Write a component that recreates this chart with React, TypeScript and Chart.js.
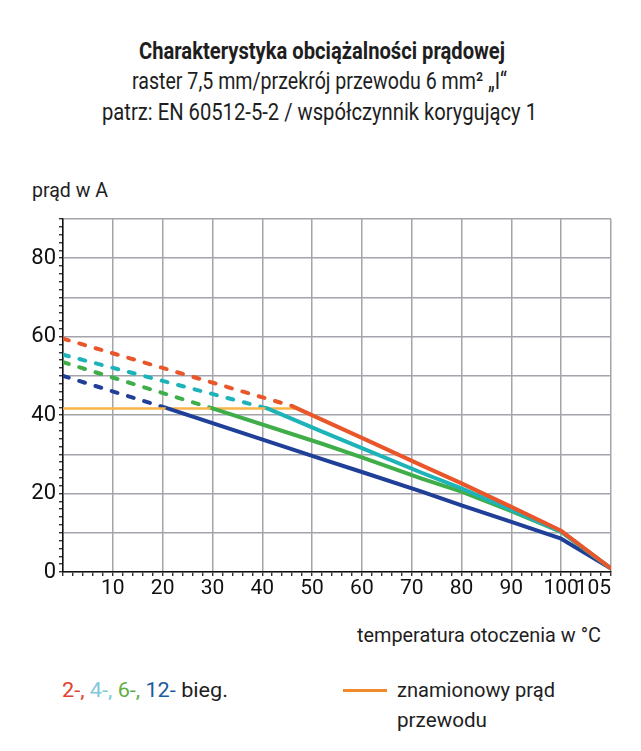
import React, { useEffect, useLayoutEffect, useRef } from "react";
import { Chart, registerables } from "chart.js";

Chart.register(...registerables);

const FONT = "Roboto, 'Noto Sans', sans-serif";

// ---- data (temperature °C -> current A) ----
const orangeX = [0, 47];
const orangeY = [41.7, 41.7];

const red2DashX = [0, 46];
const red2DashY = [59.5, 42.3];
const red2X = [46, 60, 72, 80, 90, 100, 105];
const red2Y = [42.3, 34.2, 27.2, 22.6, 16.6, 10.5, 0.9];

const teal4DashX = [0, 41];
const teal4DashY = [55.4, 41.7];
const teal4X = [41, 52, 60, 72, 80, 90, 100, 105];
const teal4Y = [41.7, 35.8, 31.6, 25.3, 21.3, 15.8, 10.3, 0.9];

const green6DashX = [0, 30];
const green6DashY = [53.5, 41.7];
const green6X = [30, 52, 60, 72, 80, 90, 100, 105];
const green6Y = [41.7, 32.7, 29.2, 23.8, 20.5, 15.5, 10.2, 0.9];

const blue12DashX = [0, 21];
const blue12DashY = [50, 41.7];
const blue12X = [21, 52, 60, 72, 80, 90, 100, 105];
const blue12Y = [41.7, 28.8, 25.5, 20.5, 17.0, 12.8, 8.5, 0.9];

const xTickLabels = ["10", "20", "30", "40", "50", "60", "70", "80", "90", "100", "105"];
const yTickLabels = ["0", "20", "40", "60", "80"];

// the axis from 100 to 105 is drawn with the same width as a 10-degree step
const toAxis = (t: number) => (t <= 100 ? t : 100 + (t - 100) * 2);
const fromAxis = (v: number) => (v <= 100 ? v : 100 + (v - 100) / 2);
const pts = (xs: number[], ys: number[]) => xs.map((x, i) => ({ x: toAxis(x), y: ys[i] }));

const RED = "#e8562a";
const TEAL = "#1db3b9";
const GREEN = "#3fae49";
const BLUE = "#1f3f98";
const ORANGE = "#f8b449";

function Fit(props: {
  left: number;
  right: number;
  top: number;
  size: number;
  weight?: number;
  lh?: number;
  children: any;
}) {
  const ref = useRef<HTMLSpanElement>(null);
  useLayoutEffect(() => {
    const el = ref.current!;
    el.style.transform = "none";
    const w = el.getBoundingClientRect().width;
    if (w > 0) el.style.transform = `scaleX(${(props.right - props.left) / w})`;
  }, []);
  return (
    <span
      ref={ref}
      style={{
        position: "absolute",
        left: props.left,
        top: props.top,
        fontSize: props.size,
        fontWeight: props.weight ?? 400,
        lineHeight: `${props.lh ?? 30}px`,
        whiteSpace: "nowrap",
        display: "inline-block",
        transformOrigin: "0 0",
      }}
    >
      {props.children}
    </span>
  );
}

export default function App() {
  const ref = useRef<HTMLCanvasElement>(null);

  useEffect(() => {
    const dashed = (data: any, color: string, order: number) => ({
      data,
      borderColor: color,
      borderWidth: 4,
      borderDash: [6, 11],
      borderCapStyle: "round" as const,
      pointRadius: 0,
      tension: 0,
      order,
    });
    const solid = (data: any, color: string, order: number, width = 4) => ({
      data,
      borderColor: color,
      borderWidth: width,
      borderCapStyle: "round" as const,
      borderJoinStyle: "round" as const,
      pointRadius: 0,
      tension: 0,
      order,
    });
    const gridColor = (c: any) => (Math.round(c.tick.value) % 10 === 0 ? "#a4a4ac" : "rgba(0,0,0,0)");
    const chart = new Chart(ref.current!, {
      type: "line",
      data: {
        datasets: [
          dashed(pts(red2DashX, red2DashY), RED, 10),
          dashed(pts(teal4DashX, teal4DashY), TEAL, 11),
          dashed(pts(green6DashX, green6DashY), GREEN, 12),
          dashed(pts(blue12DashX, blue12DashY), BLUE, 13),
          solid(pts(orangeX, orangeY), ORANGE, 5, 2.5),
          solid(pts(red2X, red2Y), RED, 1),
          solid(pts(teal4X, teal4Y), TEAL, 2),
          solid(pts(green6X, green6Y), GREEN, 3),
          solid(pts(blue12X, blue12Y), BLUE, 4),
        ],
      },
      options: {
        responsive: false,
        maintainAspectRatio: false,
        animation: false,
        layout: { padding: { top: 19, right: 30, left: 0, bottom: 0 } },
        plugins: { legend: { display: false }, tooltip: { enabled: false } },
        scales: {
          x: {
            type: "linear",
            min: 0,
            max: 110,
            afterFit: (s: any) => {
              s.height = 40;
            },
            ticks: {
              stepSize: 2,
              autoSkip: false,
              maxRotation: 0,
              align: "inner",
              padding: 0,
              color: "#111",
              font: { family: FONT, size: 21 },
              callback: (v: any) => {
                const r = Math.round(Number(v));
                if (r === 0 || r % 10 !== 0) return "";
                const lbl = String(fromAxis(r));
                return xTickLabels.includes(lbl) ? lbl : "";
              },
            },
            grid: {
              color: gridColor,
              lineWidth: 1.5,
              tickColor: "#111",
              tickLength: 4,
              tickWidth: 1.2,
            },
            border: { color: "#111", width: 1.5 },
          },
          y: {
            type: "linear",
            min: 0,
            max: 90,
            afterFit: (s: any) => {
              s.width = 63;
            },
            ticks: {
              stepSize: 2,
              autoSkip: false,
              padding: 3,
              color: "#111",
              font: { family: FONT, size: 22 },
              callback: (v: any) => {
                const lbl = String(Math.round(Number(v)));
                return yTickLabels.includes(lbl) ? lbl : "";
              },
            },
            grid: {
              color: gridColor,
              lineWidth: 1.5,
              tickColor: "#111",
              tickLength: 4,
              tickWidth: 1.2,
            },
            border: { color: "#111", width: 1.5 },
          },
        },
      },
    });
    return () => chart.destroy();
  }, []);

  return (
    <div
      style={{
        position: "absolute",
        left: 0,
        top: 0,
        width: 641,
        height: 751,
        background: "#fff",
        fontFamily: FONT,
        color: "#1e1e1e",
        overflow: "hidden",
      }}
    >
      <Fit left={139} right={505} top={36} size={23.5} weight={700}>
        Charakterystyka obciążalności prądowej
      </Fit>
      <Fit left={132} right={507} top={66} size={23.5}>
        raster 7,5 mm/przekrój przewodu 6 mm² „I“
      </Fit>
      <Fit left={102} right={537} top={97} size={23.5}>
        patrz: EN 60512-5-2 / współczynnik korygujący 1
      </Fit>
      <Fit left={32} right={108} top={175} size={21}>
        prąd w A
      </Fit>
      <canvas
        ref={ref}
        width={641}
        height={412}
        style={{ position: "absolute", left: 0, top: 200, width: 641, height: 412 }}
      />
      <Fit left={357} right={601} top={620} size={21}>
        temperatura otoczenia w °C
      </Fit>
      <Fit left={62} right={228} top={675} size={21}>
        <span style={{ color: "#e2412e" }}>2-, </span>
        <span style={{ color: "#7ec8d8" }}>4-, </span>
        <span style={{ color: "#62ad43" }}>6-, </span>
        <span style={{ color: "#1c5b9c" }}>12- </span>
        <span>bieg.</span>
      </Fit>
      <div style={{ position: "absolute", left: 343, top: 689, width: 44, height: 3, background: "#f08a2c" }} />
      <Fit left={397} right={555} top={675} size={21}>
        znamionowy prąd
      </Fit>
      <Fit left={397} right={487} top={705} size={21}>
        przewodu
      </Fit>
    </div>
  );
}
